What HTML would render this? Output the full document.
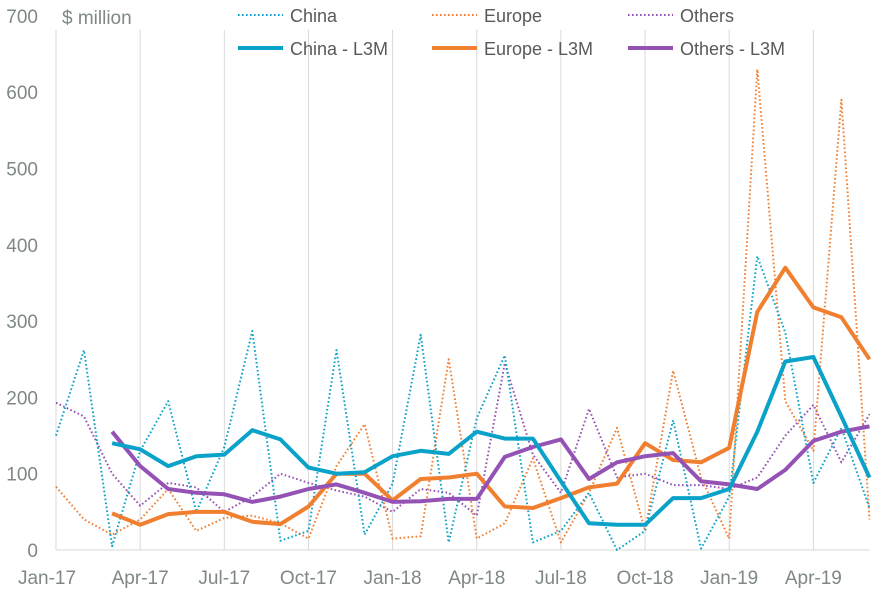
<!DOCTYPE html>
<html><head><meta charset="utf-8"><style>
html,body{margin:0;padding:0;background:#fff;}
svg{display:block;font-family:"Liberation Sans",sans-serif;}
</style></head><body>
<svg id="c" width="886" height="591" xmlns="http://www.w3.org/2000/svg"></svg>
<script>
const s=document.getElementById('c');
const X=i=>56+i*28.05, Y=v=>550-v*0.763;
let h='';
// grid
for(let k=1;k<=9;k++){const x=X(k*3);h+=`<line x1="${x}" y1="30" x2="${x}" y2="550" stroke="#d9d9d9" stroke-width="1"/>`;}
h+=`<line x1="56" y1="30" x2="56" y2="550" stroke="#d9d9d9"/>`;
h+=`<line x1="56" y1="550" x2="870" y2="550" stroke="#d9d9d9"/>`;
for(let v=0;v<=700;v+=100){h+=`<text x="38" y="${Y(v)+7}" text-anchor="end" font-size="19" fill="#7f8787">${v}</text>`;}
h+=`<text x="62" y="24" font-size="19" fill="#7f8787">$ million</text>`;
const xl=['Jan-17','Apr-17','Jul-17','Oct-17','Jan-18','Apr-18','Jul-18','Oct-18','Jan-19','Apr-19'];
xl.forEach((t,k)=>{let x=X(k*3);if(k==0)x=47;h+=`<text x="${x}" y="584" text-anchor="middle" font-size="19" fill="#7f8787">${t}</text>`;});
const C='#0aa2c8',E='#f07f30',O='#9552b5';
const ch=[150,262,5,130,195,50,135,287,12,25,262,20,87,282,10,173,255,10,25,75,0,25,170,2,70,385,285,88,160,55];
const chL=[null,null,140,132,110,123,125,157,145,108,100,102,123,130,126,155,146,146,90,35,33,33,68,68,80,155,247,253,175,95];
const eu=[83,40,20,40,80,25,42,45,35,15,110,165,15,18,250,15,35,120,10,75,160,25,235,95,15,630,195,130,590,40];
const euL=[null,null,48,33,47,50,50,37,34,57,100,100,65,93,95,100,57,55,68,82,87,140,118,115,134,312,370,318,305,250];
const ot=[193,175,100,58,88,82,50,70,100,88,78,70,50,80,75,45,245,125,75,185,95,100,85,85,80,95,150,190,115,178];
const otL=[null,null,155,110,80,75,73,63,70,80,86,75,63,64,67,67,122,135,145,93,115,123,127,90,86,80,105,143,155,162];
function pl(d,c,w,dash){let p=d.map((v,i)=>v==null?null:X(i).toFixed(1)+','+Y(v).toFixed(1)).filter(a=>a).join(' ');
h+=`<polyline points="${p}" fill="none" stroke="${c}" stroke-width="${w}" stroke-linejoin="round" ${dash?'stroke-dasharray="1.6 2.4"':''}/>`;}
pl(ot,O,2,1);pl(eu,E,2,1);pl(ch,C,2,1);
pl(euL,E,4,0);pl(otL,O,4,0);pl(chL,C,4,0);
// legend
const L=[[238,'China',C],[432,'Europe',E],[628,'Others',O]];
L.forEach(([x,t,c])=>{
h+=`<line x1="${x}" y1="15" x2="${x+45}" y2="15" stroke="${c}" stroke-width="2" stroke-dasharray="1.6 2.4"/>`;
h+=`<text x="${x+52}" y="22" font-size="18" fill="#595959">${t}</text>`;
h+=`<line x1="${x}" y1="48" x2="${x+45}" y2="48" stroke="${c}" stroke-width="4"/>`;
h+=`<text x="${x+52}" y="55" font-size="18" fill="#595959">${t} - L3M</text>`;});
s.innerHTML=h;
</script>
</body></html>
